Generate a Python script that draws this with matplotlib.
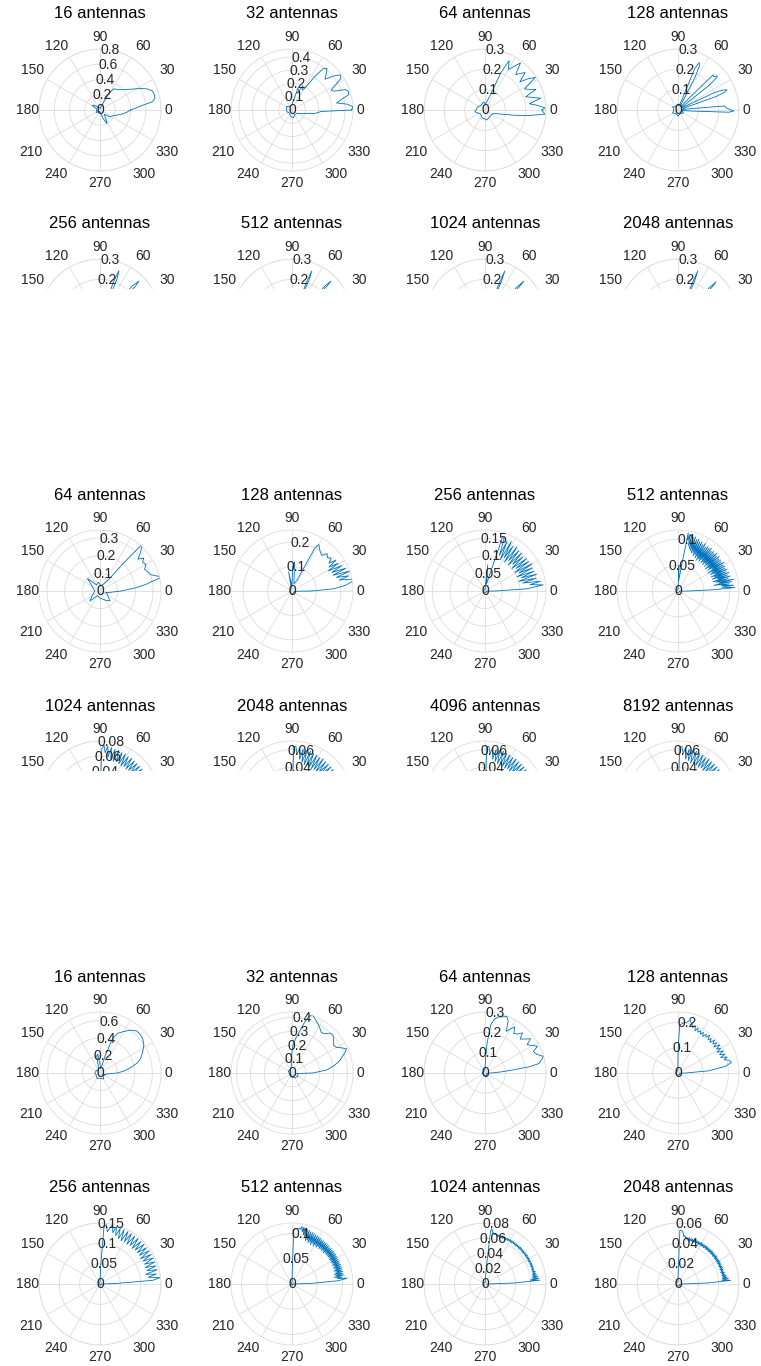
import numpy as np
import matplotlib
matplotlib.use("Agg")
import matplotlib.pyplot as plt
from matplotlib.patches import Rectangle

plt.rcParams['font.family'] = ['Liberation Sans', 'DejaVu Sans']

# ---------------- data (theta in degrees, r values) ----------------
ANGLE_LABELS = [0, 30, 60, 90, 120, 150, 180, 210, 240, 270, 300, 330]

# group 1, row 1
g1_16_th = [0,3,6,9,12,14,17,20,24,28,32,36,41,46,51,57,62,66,70,80,100,120,140,150,160,180,200,215,240,270,290,297,303,315,326,335,343,350,355,360]
g1_16_r = [0.40,0.47,0.55,0.70,0.735,0.74,0.74,0.73,0.68,0.60,0.52,0.46,0.41,0.37,0.35,0.33,0.25,0.12,0.05,0.02,0.03,0.04,0.10,0.12,0.05,0.04,0.05,0.06,0.02,0.03,0.12,0.20,0.15,0.08,0.16,0.18,0.23,0.30,0.35,0.40]

g1_32_th = [0,3,6,9,12,15,18,21,24,27,30,33,36,39,43,46,50,53,56,59,62,66,70,75,80,90,120,150,180,200,230,260,280,300,330,340,348,352,355,357,360]
g1_32_r = [0.45,0.46,0.42,0.34,0.38,0.44,0.45,0.43,0.35,0.33,0.38,0.44,0.45,0.41,0.34,0.37,0.41,0.39,0.30,0.20,0.17,0.20,0.15,0.17,0.08,0.04,0.03,0.05,0.04,0.04,0.03,0.05,0.06,0.04,0.05,0.08,0.12,0.18,0.20,0.22,0.45]

g1_64_th = [0,2,5,8,12,15,18,22,25,28,33,36,39,43,46,49,53,56,60,64,67,70,75,85,100,130,160,190,220,250,280,310,330,340,344,350,353,356,360]
g1_64_r = [0.28,0.295,0.26,0.22,0.28,0.24,0.21,0.27,0.24,0.22,0.295,0.26,0.22,0.27,0.25,0.23,0.29,0.26,0.23,0.27,0.20,0.08,0.05,0.03,0.04,0.03,0.04,0.05,0.03,0.04,0.05,0.04,0.04,0.05,0.07,0.15,0.22,0.295,0.28]

g1_128_th = [-12,-6,-4,-2.5,-1,1,3,5,6,8,14,18,19.5,21,22.5,24,25.5,27,32,37,38.5,40,41,43,45,46.5,48,55,61,62.5,64,66,68,69.5,75,90,120,150,180,210,240,270,300,330,348]
g1_128_r = [0.02,0.03,0.08,0.25,0.275,0.25,0.235,0.23,0.05,0.02,0.03,0.03,0.20,0.25,0.26,0.24,0.20,0.04,0.02,0.03,0.20,0.25,0.255,0.24,0.245,0.10,0.03,0.02,0.03,0.18,0.24,0.255,0.22,0.05,0.02,0.03,0.02,0.03,0.02,0.03,0.02,0.03,0.02,0.03,0.02]

# group 1, row 2 (mostly hidden)
g1_256_th = [-15,-8,-3,-1.5,0,1.5,3,8,15,19,20.5,22,23.5,25,30,38,42,43.5,45,46.5,48,55,63,66,67.5,69,70.5,72,80,100,140,180,220,260,300,330,345]
g1_256_r = [0.02,0.03,0.05,0.22,0.27,0.24,0.05,0.02,0.03,0.05,0.23,0.27,0.22,0.04,0.02,0.03,0.05,0.24,0.27,0.23,0.04,0.02,0.03,0.06,0.22,0.26,0.20,0.04,0.02,0.03,0.02,0.03,0.02,0.03,0.02,0.03,0.02]
g1_512_th = [-15,-8,-2,-1,0,1,2,8,15,20,21,22,23,24,30,38,43,44,45,46,47,55,63,66,67,68,69,70,80,100,140,180,220,260,300,330,345]
g1_512_r = [0.02,0.03,0.04,0.22,0.27,0.23,0.04,0.02,0.03,0.04,0.23,0.27,0.22,0.04,0.02,0.03,0.04,0.24,0.27,0.23,0.04,0.02,0.03,0.05,0.22,0.26,0.20,0.04,0.02,0.03,0.02,0.03,0.02,0.03,0.02,0.03,0.02]
g1_1024_th = [-15,-8,-2,-1,0,1,2,8,15,20,21,22,23,24,30,38,43,44,45,46,47,55,63,66,67,68,69,70,80,100,140,180,220,260,300,330,345]
g1_1024_r = [0.02,0.03,0.04,0.21,0.27,0.22,0.04,0.02,0.03,0.04,0.22,0.27,0.21,0.04,0.02,0.03,0.04,0.23,0.27,0.22,0.04,0.02,0.03,0.05,0.21,0.26,0.19,0.04,0.02,0.03,0.02,0.03,0.02,0.03,0.02,0.03,0.02]
g1_2048_th = [-15,-8,-2,-1,0,1,2,8,15,20,21,22,23,24,30,38,43,44,45,46,47,55,63,66,67,68,69,70,80,100,140,180,220,260,300,330,345]
g1_2048_r = [0.02,0.03,0.04,0.21,0.265,0.22,0.04,0.02,0.03,0.04,0.22,0.265,0.21,0.04,0.02,0.03,0.04,0.23,0.265,0.22,0.04,0.02,0.03,0.05,0.21,0.26,0.19,0.04,0.02,0.03,0.02,0.03,0.02,0.03,0.02,0.03,0.02]

# group 2, row 1
g2_64_th = [-20,-10,-5,0,5,8,10,12,13,15,18,22,26,30,34,37,40,43,46,48,50,53,60,80,100,120,135,145,160,180,210,225,240,270,300,315,330,345]
g2_64_r = [0.03,0.05,0.07,0.12,0.20,0.26,0.29,0.34,0.36,0.33,0.30,0.29,0.28,0.30,0.29,0.31,0.28,0.31,0.34,0.35,0.20,0.08,0.05,0.03,0.05,0.04,0.10,0.06,0.04,0.03,0.05,0.08,0.03,0.04,0.06,0.08,0.05,0.04]

g2_128_th = [-10,-3,0,3,6,9,11,13,15,17,19,21,23,25,27,29,31,33,35,37,40,43,47,50,55,60,62,65,75,85,88,92,100,105,130,180,225,270,300,330,350]
g2_128_r = [0.01,0.02,0.08,0.17,0.22,0.25,0.255,0.20,0.24,0.19,0.25,0.18,0.24,0.18,0.23,0.17,0.22,0.18,0.22,0.19,0.21,0.20,0.21,0.19,0.20,0.22,0.20,0.05,0.03,0.12,0.10,0.02,0.08,0.01,0.01,0.01,0.01,0.015,0.01,0.01,0.01]

g2_256_th = [-10,-3,0,3,6,8,10,12,14,16,18,20,22,24,26,28,30,32,34,36,38,40,42,44,46,48,50,52,54,56,58,60,62,64,66,68,70,72,74,78,84,87,92,120,180,240,300,340]
g2_256_r = [0.004,0.008,0.03,0.12,0.167,0.13,0.16,0.11,0.15,0.10,0.155,0.11,0.15,0.10,0.15,0.11,0.155,0.10,0.15,0.11,0.15,0.10,0.145,0.11,0.15,0.10,0.15,0.11,0.155,0.10,0.15,0.11,0.16,0.10,0.155,0.11,0.16,0.16,0.05,0.02,0.075,0.01,0.004,0.004,0.005,0.004,0.005,0.004]

g2_512_th = [-10,-3,0,2,3.5] + list(range(5, 81)) + [82,86,88,90,120,180,240,300,340]
g2_512_r = [0.003,0.005,0.02,0.07,0.11,
            0.085,0.108,0.085,0.10,0.07,0.105,0.08,0.11,0.075,0.10,0.07,0.105,0.08,0.10,0.07,0.105,
            0.075,0.10,0.07,0.104,0.078,0.10,0.07,0.103,0.075,0.10,0.068,0.105,0.078,0.10,0.07,0.102,
            0.074,0.10,0.068,0.104,0.076,0.10,0.07,0.105,0.075,0.10,0.07,0.103,0.074,0.10,0.07,0.105,
            0.076,0.102,0.07,0.104,0.074,0.10,0.07,0.106,0.076,0.102,0.072,0.106,0.078,0.104,0.074,0.108,
            0.08,0.106,0.078,0.11,0.082,0.108,0.085,0.11,0.09,0.112,0.10,0.114,
            0.05,0.02,0.05,0.004,0.003,0.003,0.003,0.003,0.003]

# group 2, row 2 (mostly hidden)
g2_1024_th = [-10,0,2] + list(range(4, 88, 2)) + [88,89,90,120,180,240,300,340]
g2_1024_r = [0.002,0.005,0.03,
             0.06,0.072,0.056,0.07,0.055,0.07,0.056,0.069,0.055,0.07,
             0.056,0.069,0.055,0.07,0.056,0.069,0.055,0.07,0.056,0.07,
             0.055,0.07,0.056,0.07,0.055,0.071,0.056,0.07,0.055,0.071,
             0.056,0.071,0.057,0.072,0.056,0.072,0.058,0.073,0.06,0.074,0.065,0.075,
             0.07,0.02,0.003,0.002,0.002,0.002,0.002,0.002]
g2_2048_th = [-10,0,2] + list(range(4, 88, 2)) + [88,89,90,120,180,240,300,340]
g2_2048_r = [0.002,0.005,0.03,
             0.05,0.06,0.045,0.059,0.044,0.06,0.045,0.059,0.044,0.06,
             0.045,0.059,0.044,0.06,0.045,0.059,0.044,0.06,0.045,0.06,
             0.044,0.06,0.045,0.06,0.044,0.061,0.045,0.06,0.044,0.061,
             0.045,0.061,0.046,0.062,0.045,0.062,0.047,0.062,0.05,0.063,0.055,0.064,
             0.064,0.02,0.003,0.002,0.002,0.002,0.002,0.002]
g2_4096_th = [-10,0,2] + list(range(4, 88, 2)) + [88,89,90,120,180,240,300,340]
g2_4096_r = [0.002,0.005,0.03,
             0.05,0.06,0.046,0.059,0.045,0.06,0.046,0.059,0.045,0.06,
             0.046,0.059,0.045,0.06,0.046,0.059,0.045,0.06,0.046,0.06,
             0.045,0.06,0.046,0.06,0.045,0.061,0.046,0.06,0.045,0.061,
             0.046,0.061,0.047,0.062,0.046,0.062,0.048,0.062,0.05,0.063,0.056,0.064,
             0.064,0.02,0.003,0.002,0.002,0.002,0.002,0.002]
g2_8192_th = [-10,0,2] + list(range(4, 88, 2)) + [88,89,90,120,180,240,300,340]
g2_8192_r = [0.002,0.005,0.03,
             0.05,0.06,0.047,0.059,0.046,0.06,0.047,0.059,0.046,0.06,
             0.047,0.059,0.046,0.06,0.047,0.059,0.046,0.06,0.047,0.06,
             0.046,0.06,0.047,0.06,0.046,0.061,0.047,0.06,0.046,0.061,
             0.047,0.061,0.048,0.062,0.047,0.062,0.049,0.062,0.05,0.063,0.056,0.064,
             0.064,0.02,0.003,0.002,0.002,0.002,0.002,0.002]

# group 3, row 1
g3_16_th = [-30,-15,-5,0,5,10,15,19,23,28,33,39,44,49,55,60,66,70,73,76,82,90,97,101,106,120,150,180,210,240,270,300,320,340]
g3_16_r = [0.04,0.06,0.10,0.20,0.28,0.36,0.44,0.49,0.52,0.56,0.60,0.63,0.64,0.64,0.60,0.55,0.50,0.42,0.21,0.08,0.05,0.10,0.22,0.20,0.06,0.04,0.05,0.06,0.05,0.07,0.06,0.08,0.05,0.06]

g3_32_th = [-10,-4,0,5,10,15,18,21,24,27,30,34,38,42,46,50,54,58,62,66,70,73,76,80,84,88,92,96,110,150,200,250,300,330,350]
g3_32_r = [0.03,0.05,0.15,0.25,0.31,0.36,0.38,0.41,0.43,0.40,0.37,0.36,0.38,0.40,0.40,0.37,0.36,0.38,0.40,0.42,0.44,0.43,0.38,0.30,0.25,0.20,0.12,0.05,0.03,0.03,0.02,0.03,0.04,0.05,0.04]

g3_64_th = [-10,-3,0,4,6,8,10,14,16,20,24,27,30,34,37,40,44,47,50,54,57,60,63,66,69,72,76,80,83,86,88,90,120,180,240,300,340]
g3_64_r = [0.01,0.015,0.03,0.08,0.13,0.22,0.27,0.29,0.298,0.27,0.26,0.29,0.27,0.25,0.28,0.26,0.24,0.27,0.25,0.24,0.27,0.25,0.23,0.28,0.298,0.29,0.285,0.27,0.24,0.15,0.06,0.02,0.01,0.015,0.01,0.015,0.01]

g3_128_th = [-10,-3,0,4,8,11,14,16,18,20,22,24,26,28,30,32,34,36,38,40,42,44,46,48,50,52,54,56,58,60,62,64,66,68,70,72,74,77,80,84,88,90,92,120,180,240,300,340]
g3_128_r = [0.008,0.012,0.03,0.12,0.19,0.215,0.21,0.19,0.205,0.18,0.20,0.18,0.20,0.175,0.195,0.18,0.20,0.175,0.195,0.18,0.195,0.175,0.19,0.178,0.195,0.18,0.19,0.175,0.19,0.178,0.19,0.18,0.195,0.18,0.20,0.19,0.20,0.215,0.205,0.20,0.19,0.08,0.01,0.008,0.01,0.008,0.01,0.008]

# group 3, row 2
g3_256_th = [-10,0,2] + list(range(4, 82, 2)) + [82,84,86,88,90,120,180,240,300,340]
g3_256_r = [0.003,0.006,0.04,
            0.13,0.148,0.12,0.14,0.115,0.145,0.12,0.145,0.118,0.145,
            0.12,0.146,0.12,0.145,0.118,0.146,0.12,0.145,0.12,0.146,
            0.12,0.145,0.118,0.146,0.12,0.145,0.118,0.146,0.12,0.146,
            0.118,0.146,0.12,0.146,0.125,0.147,0.13,0.149,0.14,
            0.13,0.147,0.14,0.04,0.005,0.003,0.003,0.003,0.003,0.003]

g3_512_th = [-10,0,2] + list(range(4, 85)) + [86,88,89,90,120,180,240,300,340]
g3_512_r = [0.002,0.004,0.04,
            0.09,0.10,0.11,0.09,0.10,0.085,0.104,0.088,0.103,0.086,0.104,0.09,0.103,0.087,0.104,0.09,0.103,
            0.088,0.104,0.09,0.103,0.088,0.104,0.09,0.103,0.088,0.104,0.09,0.104,0.088,0.105,0.09,0.104,
            0.089,0.105,0.09,0.104,0.089,0.105,0.09,0.104,0.088,0.105,0.09,0.105,0.088,0.106,0.09,0.105,
            0.088,0.106,0.09,0.106,0.087,0.107,0.09,0.107,0.086,0.108,0.09,0.108,0.086,0.109,0.09,0.11,
            0.088,0.11,0.092,0.112,0.09,0.112,0.095,0.114,0.10,0.115,0.105,0.116,0.11,0.112,0.11,0.11,
            0.11,0.108,0.03,0.003,0.002,0.002,0.002,0.002,0.002]

g3_1024_th = [-10,0,2] + list(range(4, 87)) + [88,89,90,120,180,240,300,340]
g3_1024_r = [0.002,0.004,0.04,
             0.072,0.060,0.071,0.062,0.070,0.063,0.069,0.063,0.068,0.064,0.068,
             0.064,0.067,0.064,0.067,0.0645,0.067,0.064,0.0672,0.064,0.067,0.0645,0.067,0.064,0.0668,0.064,0.067,
             0.0645,0.067,0.064,0.0672,0.064,0.067,0.0645,0.067,0.064,0.0668,0.064,0.067,0.0645,0.067,0.064,0.0672,
             0.064,0.067,0.0645,0.067,0.064,0.0668,0.064,0.067,0.0645,0.067,0.064,0.0672,0.064,0.067,0.0645,0.067,
             0.064,0.0668,0.064,0.067,0.0645,0.067,0.064,0.0672,0.064,0.067,0.0645,0.067,0.064,0.067,
             0.066,0.068,0.066,0.068,0.067,0.070,0.073,0.070,
             0.03,0.004,0.002,0.002,0.002,0.002,0.002,0.002]

g3_2048_th = [-10,0,2] + list(range(4, 87)) + [88,89,90,120,180,240,300,340]
g3_2048_r = [0.002,0.004,0.03,
             0.052,0.043,0.050,0.044,0.049,0.044,0.048,0.044,0.047,0.044,0.047,
             0.0435,0.0465,0.044,0.0465,0.0435,0.047,0.044,0.0465,
             0.0435,0.0465,0.044,0.0465,0.0435,0.047,0.044,0.0465,
             0.0435,0.0465,0.044,0.0465,0.0435,0.047,0.044,0.0465,
             0.0435,0.0465,0.044,0.0465,0.0435,0.047,0.044,0.0465,
             0.0435,0.0465,0.044,0.0465,0.0435,0.047,0.044,0.0465,
             0.0435,0.0465,0.044,0.0465,0.0435,0.047,0.044,0.0465,
             0.0435,0.0465,0.044,0.0465,0.0435,0.047,0.044,0.0465,
             0.0435,0.0465,0.044,0.0465,0.0435,0.047,0.044,0.0465,
             0.045,0.047,0.046,0.048,0.047,0.050,0.052,0.053,
             0.053,0.01,0.003,0.002,0.002,0.002,0.002,0.002]

# panel table: (column, row, title, theta, r, rmax, rticks)
PANELS = [
    (0, 0, '16 antennas', g1_16_th, g1_16_r, 0.80, [0.2, 0.4, 0.6, 0.8]),
    (1, 0, '32 antennas', g1_32_th, g1_32_r, 0.46, [0.1, 0.2, 0.3, 0.4]),
    (2, 0, '64 antennas', g1_64_th, g1_64_r, 0.30, [0.1, 0.2, 0.3]),
    (3, 0, '128 antennas', g1_128_th, g1_128_r, 0.30, [0.1, 0.2, 0.3]),
    (0, 1, '256 antennas', g1_256_th, g1_256_r, 0.30, [0.1, 0.2, 0.3]),
    (1, 1, '512 antennas', g1_512_th, g1_512_r, 0.30, [0.1, 0.2, 0.3]),
    (2, 1, '1024 antennas', g1_1024_th, g1_1024_r, 0.30, [0.1, 0.2, 0.3]),
    (3, 1, '2048 antennas', g1_2048_th, g1_2048_r, 0.30, [0.1, 0.2, 0.3]),
    (0, 2, '64 antennas', g2_64_th, g2_64_r, 0.345, [0.1, 0.2, 0.3]),
    (1, 2, '128 antennas', g2_128_th, g2_128_r, 0.25, [0.1, 0.2]),
    (2, 2, '256 antennas', g2_256_th, g2_256_r, 0.174, [0.05, 0.1, 0.15]),
    (3, 2, '512 antennas', g2_512_th, g2_512_r, 0.118, [0.05, 0.1]),
    (0, 3, '1024 antennas', g2_1024_th, g2_1024_r, 0.08, [0.02, 0.04, 0.06, 0.08]),
    (1, 3, '2048 antennas', g2_2048_th, g2_2048_r, 0.07, [0.02, 0.04, 0.06]),
    (2, 3, '4096 antennas', g2_4096_th, g2_4096_r, 0.07, [0.02, 0.04, 0.06]),
    (3, 3, '8192 antennas', g2_8192_th, g2_8192_r, 0.07, [0.02, 0.04, 0.06]),
    (0, 4, '16 antennas', g3_16_th, g3_16_r, 0.70, [0.2, 0.4, 0.6]),
    (1, 4, '32 antennas', g3_32_th, g3_32_r, 0.44, [0.1, 0.2, 0.3, 0.4]),
    (2, 4, '64 antennas', g3_64_th, g3_64_r, 0.30, [0.1, 0.2, 0.3]),
    (3, 4, '128 antennas', g3_128_th, g3_128_r, 0.242, [0.1, 0.2]),
    (0, 5, '256 antennas', g3_256_th, g3_256_r, 0.15, [0.05, 0.1, 0.15]),
    (1, 5, '512 antennas', g3_512_th, g3_512_r, 0.121, [0.05, 0.1]),
    (2, 5, '1024 antennas', g3_1024_th, g3_1024_r, 0.08, [0.02, 0.04, 0.06, 0.08]),
    (3, 5, '2048 antennas', g3_2048_th, g3_2048_r, 0.06, [0.02, 0.04, 0.06]),
]

# ---------------- layout / style ----------------
W, H = 761, 1366
R = 61
COL_X = [100, 292, 485, 678]
ROW_Y = [110, 320, 591, 802, 1073, 1284]
# pixel offset (dx, dy up) from the circle centre to each angle label centre
LABEL_OFF = {0: (68, 0), 30: (67, 40), 60: (43.5, 63.5), 90: (0, 73),
             120: (-43.5, 63.5), 150: (-67, 40), 180: (-72, 0), 210: (-69, -41.5),
             240: (-44, -63.5), 270: (0, -73), 300: (44, -63.5), 330: (67.5, -41.5)}
LINE = '#0072BD'
GRID = '#dcdcdc'
TXT = '#262626'
TICK_FS = 10
TITLE_FS = 12

fig = plt.figure(figsize=(W / 100, H / 100), dpi=100)
fig.patch.set_facecolor('white')


def fx(px):
    return px / W


def fy(py):
    return 1 - py / H


def draw_panel(col, row, title, th, r, rmax, rticks):
    cx, cy = COL_X[col], ROW_Y[row]
    ax = fig.add_axes([fx(cx - R), fy(cy + R), 2 * R / W, 2 * R / H], projection='polar')
    n = min(len(th), len(r))
    ax.plot(np.deg2rad(th[:n]), r[:n], color=LINE, lw=0.6, zorder=3, clip_on=True)
    ax.set_ylim(0, rmax)
    ax.set_yticks(rticks)
    ax.set_yticklabels([])
    ax.set_xticks(np.deg2rad(ANGLE_LABELS))
    ax.set_xticklabels([])
    ax.tick_params(length=0)
    ax.grid(True, color=GRID, lw=0.6)
    ax.spines['polar'].set_color(GRID)
    ax.spines['polar'].set_linewidth(0.6)
    for t in [0] + list(rticks):
        ax.text(np.deg2rad(80), t, f"{t:g}", ha='center', va='center',
                fontsize=TICK_FS, color=TXT, zorder=5)
    for a in ANGLE_LABELS:
        dx, dy = LABEL_OFF[a]
        fig.text(fx(cx + dx), fy(cy - dy), str(a), ha='center', va='center',
                 fontsize=TICK_FS, color=TXT)
    fig.text(fx(cx), fy(cy - 96), title, ha='center', va='center',
             fontsize=TITLE_FS, color='black')


for p in PANELS:
    draw_panel(*p)

# the lower rows of the first two blocks are cut off in the reference
for top, bot in [(289, 482), (771, 962)]:
    fig.add_artist(Rectangle((0, fy(bot)), 1, fy(top) - fy(bot), transform=fig.transFigure,
                             facecolor='white', edgecolor='none', zorder=50))

fig.savefig('out.png', dpi=100, facecolor='white')
